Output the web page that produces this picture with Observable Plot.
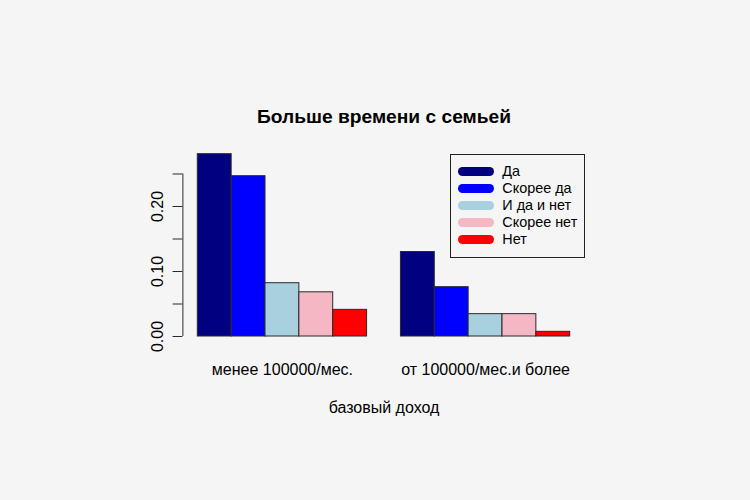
<!DOCTYPE html>
<html><head><meta charset="utf-8">
<script src="https://cdn.jsdelivr.net/npm/d3@7"></script>
<script src="https://cdn.jsdelivr.net/npm/@observablehq/plot@0.6"></script>
<style>
html,body{margin:0;padding:0;background:#f5f5f5;}
#wrap{position:relative;width:750px;height:500px;font-family:"Liberation Sans",Arial,sans-serif;color:#000;}
#wrap svg{position:absolute;left:0;top:0;background:transparent;}
#legend{position:absolute;left:450px;top:154px;width:135px;height:104px;box-sizing:border-box;border:1px solid #222;padding-top:7.8px;}
.row{display:flex;align-items:center;height:17.1px;font-size:14.4px;line-height:17.1px;}
.sw{width:36px;height:9px;border-radius:4.5px;margin-left:7.3px;margin-right:8px;flex:none;}
</style></head>
<body><div id="wrap"></div>
<script>
const title = "Больше времени с семьей";
const xLabel = "базовый доход";
const groups = ["менее 100000/мес.", "от 100000/мес.и более"];
const answers = ["Да", "Скорее да", "И да и нет", "Скорее нет", "Нет"];
const colors = ["#000080", "#0000ff", "#a9d0de", "#f5b7c3", "#ff0000"];
const valuesLow = [0.2805, 0.2466, 0.082, 0.068, 0.041];
const valuesHigh = [0.130, 0.0759, 0.0344, 0.0344, 0.0072];
const yTicks = [0, 0.05, 0.10, 0.15, 0.20, 0.25];
const yTickLabels = ["0.00", "", "0.10", "", "0.20", ""];

// R barplot(beside=TRUE) layout: space 1 before each group, bar width 1
const series = [valuesLow, valuesHigh];
const n = answers.length;
const bars = [];
groups.forEach((g, gi) => answers.forEach((a, ai) => {
  const x1 = 1 + gi * (n + 1) + ai;
  bars.push({group: g, answer: a, value: series[gi][ai], x1, x2: x1 + 1, color: colors[ai]});
}));
const groupCenters = groups.map((g, gi) => ({group: g, x: 1 + gi * (n + 1) + n / 2}));
const xmin = 1, xmax = groups.length * (n + 1);
const xPad = (xmax - xmin) * 0.04;
const ymaxV = d3.max(bars, d => d.value);
const yminV = -0.01 * ymaxV;
const yPad = (ymaxV - yminV) * 0.04;

const chart = Plot.plot({
  width: 750, height: 500,
  marginLeft: 182.4, marginRight: 165.4, marginTop: 146.3, marginBottom: 154.8,
  style: {background: "transparent", fontFamily: "Liberation Sans, Arial, sans-serif", color: "#000"},
  x: {type: "linear", domain: [xmin - xPad, xmax + xPad], axis: null},
  y: {domain: [yminV - yPad, ymaxV + yPad], axis: null},
  marks: [
    Plot.rect(bars, {x1: "x1", x2: "x2", y1: 0, y2: "value", fill: "color", stroke: "#2a2a2a", strokeWidth: 1}),
    Plot.ruleX([xmin - xPad], {y1: yTicks[0], y2: yTicks[yTicks.length - 1], stroke: "#2a2a2a"}),
    Plot.axisY({ticks: yTicks, tickSize: 9.8, tickRotate: -90, tickPadding: 10, fontSize: 16,
      tickFormat: d => yTickLabels[yTicks.findIndex(t => Math.abs(t - d) < 1e-9)] ?? "", label: null, stroke: "#2a2a2a"}),
    Plot.text(groupCenters, {x: "x", text: "group", frameAnchor: "bottom", lineAnchor: "bottom", dy: 28.8, fontSize: 16}),
    Plot.text([xLabel], {text: d => d, frameAnchor: "bottom", lineAnchor: "bottom", dy: 66.8, fontSize: 16}),
    Plot.text([title], {text: d => d, frameAnchor: "top", lineAnchor: "bottom", dy: -24, fontSize: 19.2, fontWeight: "bold"})
  ]
});
const wrap = document.getElementById("wrap");
wrap.appendChild(chart);

const legend = document.createElement("div");
legend.id = "legend";
answers.forEach((a, i) => {
  const row = document.createElement("div");
  row.className = "row";
  const sw = document.createElement("span");
  sw.className = "sw";
  sw.style.background = colors[i];
  const t = document.createElement("span");
  t.textContent = a;
  row.appendChild(sw); row.appendChild(t);
  legend.appendChild(row);
});
wrap.appendChild(legend);
</script>
</body></html>
